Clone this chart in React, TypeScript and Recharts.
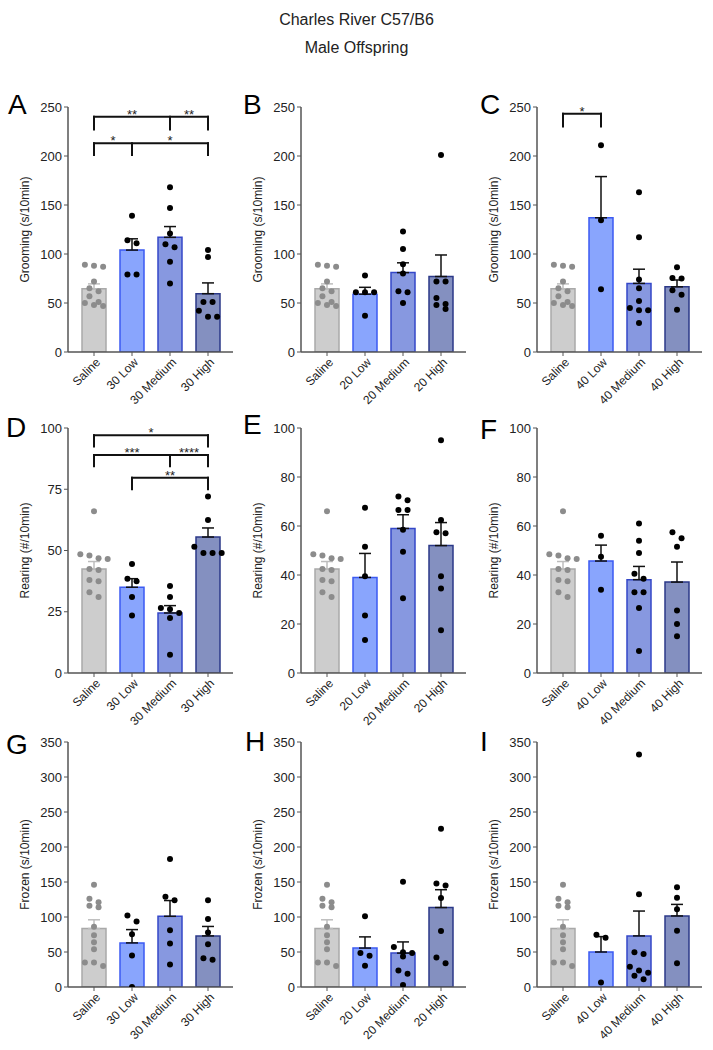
import React from 'react';
import { ComposedChart, Bar, Cell, ErrorBar, Scatter, XAxis, YAxis, ReferenceLine } from 'recharts';

const FONT = '"Liberation Sans", Arial, Helvetica, sans-serif';

// ---- categories ----
const groups30 = ['Saline', '30 Low', '30 Medium', '30 High'];
const groups20 = ['Saline', '20 Low', '20 Medium', '20 High'];
const groups40 = ['Saline', '40 Low', '40 Medium', '40 High'];

// ---- y tick labels ----
const groomingTicks = [0, 50, 100, 150, 200, 250];
const rearingTicksD = [0, 25, 50, 75, 100];
const rearingTicks = [0, 20, 40, 60, 80, 100];
const frozenTicks = [0, 50, 100, 150, 200, 250, 300, 350];

// ---- saline (shared per row) ----
const salineGroomingPts = [89, 88, 87, 72, 65, 62, 57, 51, 50, 48, 47];
const salineRearingPts = [66, 48.5, 48, 46.8, 46.5, 42.5, 42, 38, 37.5, 33, 31];
const salineFrozenPts = [146, 126, 121, 116, 114, 86, 74, 64, 54, 35, 35, 30];
const salineGrooming = { mean: 64.5, sem: 5 };
const salineRearing = { mean: 42.5, sem: 3 };
const salineFrozen = { mean: 83.5, sem: 12.5 };

// ---- A: Grooming, 30 ----
const meansA = [salineGrooming.mean, 104, 117, 59.5];
const semsA = [salineGrooming.sem, 11.5, 11, 11];
const lowA = [139, 114, 111, 79, 79];
const medA = [168, 147, 121, 110, 107, 92, 70];
const highA = [104, 97, 51, 51, 42, 36, 36];

// ---- B: Grooming, 20 ----
const meansB = [salineGrooming.mean, 59, 81, 77];
const semsB = [salineGrooming.sem, 7, 10, 22];
const lowB = [78, 61, 61, 61, 37];
const medB = [123, 105, 89.5, 80, 62, 61, 50];
const highB = [201, 72, 72, 55, 49, 48, 44];

// ---- C: Grooming, 40 ----
const meansC = [salineGrooming.mean, 137, 70, 66.5];
const semsC = [salineGrooming.sem, 42, 14.5, 7];
const lowC = [211, 134.5, 64];
const medC = [163, 117, 74, 65, 52, 45, 42.5, 42.5, 29.5];
const highC = [86.5, 75.5, 75, 63, 58.5, 43];

// ---- D: Rearing, 30 ----
const meansD = [salineRearing.mean, 35, 24.5, 55.5];
const semsD = [salineRearing.sem, 3.5, 3, 3.7];
const lowD = [44.5, 38.5, 37.5, 31, 23.5];
const medD = [35.5, 31, 26.5, 26, 24.5, 22.5, 7.5];
const highD = [72, 62.5, 51.5, 49, 49, 49];

// ---- E: Rearing, 20 ----
const meansE = [salineRearing.mean, 39, 59, 52];
const semsE = [salineRearing.sem, 9.8, 5.6, 9.4];
const lowE = [67.5, 51.5, 39.5, 23.5, 13.5];
const medE = [72, 70.5, 66.5, 66.5, 58.5, 49.5, 30.5];
const highE = [95, 62.5, 57.5, 57, 39.5, 34.5, 17.5];

// ---- F: Rearing, 40 ----
const meansF = [salineRearing.mean, 45.7, 38.1, 37.1];
const semsF = [salineRearing.sem, 6.5, 5.4, 8.2];
const lowF = [56, 47.5, 34];
const medF = [61, 54, 49, 40.5, 38.5, 33, 33, 26.5, 9];
const highF = [57.5, 55, 51.5, 25.5, 20, 15];

// ---- G: Frozen, 30 ----
const meansG = [salineFrozen.mean, 63, 101, 73];
const semsG = [salineFrozen.sem, 19, 22.5, 13.5];
const lowG = [102, 93.5, 75.5, 45, 0];
const medG = [183, 129, 124, 81, 62, 32];
const highG = [124, 97, 78, 61, 41, 39];

// ---- H: Frozen, 20 ----
const meansH = [salineFrozen.mean, 55.6, 48.4, 113.5];
const semsH = [salineFrozen.sem, 16, 16, 25.5];
const lowH = [101, 48.5, 44.5, 30.5];
const medH = [150.5, 57, 49.5, 48.5, 43.5, 23.5, 19, 3];
const highH = [226, 148, 145, 127, 80, 42, 34];

// ---- I: Frozen, 40 ----
const meansI = [salineFrozen.mean, 50, 73, 101.5];
const semsI = [salineFrozen.sem, 22, 35.5, 16.5];
const lowI = [74.5, 70.5, 6.5];
const medI = [332, 132.5, 49.5, 47, 29, 23.5, 20.5, 16, 11];
const highI = [142.5, 127.5, 111, 80.5, 34];

// ---- significance brackets (group index from/to, bracket level, tick bottom) ----
const bracketsA = [
  { from: 0, to: 3, y: 240, drop: 227, mids: [2] },
  { from: 0, to: 3, y: 213, drop: 201, mids: [1] },
];
const starsA = [
  { x: 1, y: 240, t: '**' },
  { x: 2.5, y: 240, t: '**' },
  { x: 0.5, y: 213, t: '*' },
  { x: 2, y: 213, t: '*' },
];
const bracketsC = [{ from: 0, to: 1, y: 243, drop: 230, mids: [] as number[] }];
const starsC = [{ x: 0.5, y: 243, t: '*' }];
const bracketsD = [
  { from: 0, to: 3, y: 97, drop: 92.4, mids: [] as number[] },
  { from: 0, to: 3, y: 89, drop: 84.4, mids: [2] },
  { from: 1, to: 3, y: 79.7, drop: 75, mids: [] as number[] },
];
const starsD = [
  { x: 1.5, y: 97, t: '*' },
  { x: 1, y: 89, t: '***' },
  { x: 2.5, y: 89, t: '****' },
  { x: 2, y: 79.7, t: '**' },
];

// ---- style ----
const fills = ['#cdcdcd', '#89a5fd', '#8798e0', '#8490c0'];
const strokes = ['#a9a9a9', '#3b5af2', '#3447c8', '#2b3888'];
const AXIS = '#555';

const colX = [68, 301, 537];
const rowY = [107, 428, 742];
const PLOT_W = 165;
const PLOT_H = 245;
const YW = 86;
const MT = 15;
const XH = 80;

function spread(values: number[], group: number, max: number) {
  const sorted = [...values].sort((a, b) => b - a);
  const out: { x: number; y: number }[] = [];
  const thr = max * 0.025;
  let i = 0;
  while (i < sorted.length) {
    let j = i + 1;
    while (j < sorted.length && sorted[i] - sorted[j] <= thr) j++;
    const k = j - i;
    for (let m = 0; m < k; m++) out.push({ x: group + (m - (k - 1) / 2) * 0.24, y: sorted[i + m] });
    i = j;
  }
  return out;
}

const XTick = (props: any) => {
  const { x, y, payload } = props;
  return (
    <text
      x={0}
      y={0}
      transform={`translate(${x + 4},${y + 2}) rotate(-45)`}
      textAnchor="end"
      dy="0.35em"
      fontSize={12}
      fill="#222"
    >
      {payload.value}
    </text>
  );
};

const dot = (color: string) => (p: any) => <circle cx={p.cx} cy={p.cy} r={3} fill={color} />;
const starShape = (p: any) => (
  <text x={p.cx} y={p.cy} dy={2} textAnchor="middle" fontSize={13} fill="#222">
    {p.payload.t}
  </text>
);

type PanelCfg = {
  letter: string;
  col: number;
  row: number;
  groups: string[];
  means: number[];
  sems: number[];
  points: number[][];
  max: number;
  ticks: number[];
  yLabel: string;
  brackets?: { from: number; to: number; y: number; drop: number; mids: number[] }[];
  stars?: { x: number; y: number; t: string }[];
};

function Panel({ cfg }: { cfg: PanelCfg }) {
  const { col, row, groups, means, sems, points, max, ticks, yLabel, brackets = [], stars = [] } = cfg;
  const rows = groups.map((g, i) => ({
    name: g,
    mean: means[i],
    errS: i === 0 ? [0, sems[i]] : null,
    errO: i === 0 ? null : [0, sems[i]],
  }));
  const salinePts = spread(points[0], 0, max);
  const otherPts = points.slice(1).flatMap((v, i) => spread(v, i + 1, max));
  const left = colX[col] - YW;
  const top = rowY[row] - MT;
  const segs: { x: number; y: number }[][] = [];
  brackets.forEach((b) => {
    segs.push([{ x: b.from, y: b.y }, { x: b.to, y: b.y }]);
    [b.from, b.to, ...b.mids].forEach((m) => segs.push([{ x: m, y: b.y }, { x: m, y: b.drop }]));
  });
  return (
    <div style={{ position: 'absolute', left, top }}>
      <ComposedChart
        width={YW + PLOT_W + 6}
        height={MT + PLOT_H + XH}
        data={rows}
        margin={{ top: MT, right: 6, bottom: 0, left: 0 }}
      >
        <XAxis
          xAxisId="cat"
          dataKey="name"
          type="category"
          interval={0}
          padding={{ left: 7, right: 6 }}
          height={XH}
          tickSize={4}
          tick={<XTick />}
          axisLine={{ stroke: AXIS, strokeWidth: 1.5 }}
          tickLine={{ stroke: AXIS }}
        />
        <XAxis
          xAxisId="num"
          dataKey="x"
          type="number"
          domain={[-0.5, 3.5]}
          allowDataOverflow
          padding={{ left: 7, right: 6 }}
          hide
        />
        <YAxis
          dataKey="y"
          type="number"
          domain={[0, max]}
          ticks={ticks}
          allowDataOverflow
          width={YW}
          tickSize={4}
          tick={{ fontSize: 13, fill: '#222' }}
          axisLine={{ stroke: AXIS, strokeWidth: 1.5 }}
          tickLine={{ stroke: AXIS }}
          label={{ value: yLabel, angle: -90, position: 'center', fontSize: 12, fill: '#222' }}
        />
        <Bar xAxisId="cat" dataKey="mean" barSize={24} isAnimationActive={false}>
          {rows.map((r, i) => (
            <Cell key={r.name} fill={fills[i]} stroke={strokes[i]} strokeWidth={1.5} />
          ))}
          <ErrorBar dataKey="errS" width={6} stroke="#bdbdbd" strokeWidth={1.5} direction="y" />
          <ErrorBar dataKey="errO" width={6} stroke="#111" strokeWidth={1.5} direction="y" />
        </Bar>
        {segs.map((s, i) => (
          <ReferenceLine
            key={i}
            xAxisId="num"
            segment={s}
            stroke="#111"
            strokeWidth={2}
            strokeLinecap="square"
            ifOverflow="visible"
          />
        ))}
        <Scatter xAxisId="num" data={salinePts} dataKey="y" shape={dot('#8c8c8c')} isAnimationActive={false} />
        <Scatter xAxisId="num" data={otherPts} dataKey="y" shape={dot('#000')} isAnimationActive={false} />
        {stars.length > 0 && (
          <Scatter xAxisId="num" data={stars} dataKey="y" shape={starShape} isAnimationActive={false} />
        )}
      </ComposedChart>
    </div>
  );
}

const panels: PanelCfg[] = [
  { letter: 'A', col: 0, row: 0, groups: groups30, means: meansA, sems: semsA, points: [salineGroomingPts, lowA, medA, highA], max: 250, ticks: groomingTicks, yLabel: 'Grooming (s/10min)', brackets: bracketsA, stars: starsA },
  { letter: 'B', col: 1, row: 0, groups: groups20, means: meansB, sems: semsB, points: [salineGroomingPts, lowB, medB, highB], max: 250, ticks: groomingTicks, yLabel: 'Grooming (s/10min)' },
  { letter: 'C', col: 2, row: 0, groups: groups40, means: meansC, sems: semsC, points: [salineGroomingPts, lowC, medC, highC], max: 250, ticks: groomingTicks, yLabel: 'Grooming (s/10min)', brackets: bracketsC, stars: starsC },
  { letter: 'D', col: 0, row: 1, groups: groups30, means: meansD, sems: semsD, points: [salineRearingPts, lowD, medD, highD], max: 100, ticks: rearingTicksD, yLabel: 'Rearing (#/10min)', brackets: bracketsD, stars: starsD },
  { letter: 'E', col: 1, row: 1, groups: groups20, means: meansE, sems: semsE, points: [salineRearingPts, lowE, medE, highE], max: 100, ticks: rearingTicks, yLabel: 'Rearing (#/10min)' },
  { letter: 'F', col: 2, row: 1, groups: groups40, means: meansF, sems: semsF, points: [salineRearingPts, lowF, medF, highF], max: 100, ticks: rearingTicks, yLabel: 'Rearing (#/10min)' },
  { letter: 'G', col: 0, row: 2, groups: groups30, means: meansG, sems: semsG, points: [salineFrozenPts, lowG, medG, highG], max: 350, ticks: frozenTicks, yLabel: 'Frozen (s/10min)' },
  { letter: 'H', col: 1, row: 2, groups: groups20, means: meansH, sems: semsH, points: [salineFrozenPts, lowH, medH, highH], max: 350, ticks: frozenTicks, yLabel: 'Frozen (s/10min)' },
  { letter: 'I', col: 2, row: 2, groups: groups40, means: meansI, sems: semsI, points: [salineFrozenPts, lowI, medI, highI], max: 350, ticks: frozenTicks, yLabel: 'Frozen (s/10min)' },
];

const letterPos = [
  [8, 91], [243, 91], [480, 91],
  [6, 414], [243, 411], [480, 416],
  [6, 731], [245, 728], [480, 728],
];

export default function App() {
  return (
    <div
      style={{
        position: 'absolute',
        left: 0,
        top: 0,
        width: 713,
        height: 1050,
        background: '#fff',
        fontFamily: FONT,
        overflow: 'hidden',
      }}
    >
      <div style={{ position: 'absolute', left: 0, top: 11, width: 713, textAlign: 'center', fontSize: 16, lineHeight: '18px', color: '#222' }}>
        Charles River C57/B6
      </div>
      <div style={{ position: 'absolute', left: 0, top: 39, width: 713, textAlign: 'center', fontSize: 16, lineHeight: '18px', color: '#222' }}>
        Male Offspring
      </div>
      {panels.map((p) => (
        <Panel key={p.letter} cfg={p} />
      ))}
      {panels.map((p, i) => (
        <div
          key={'L' + p.letter}
          style={{ position: 'absolute', left: letterPos[i][0], top: letterPos[i][1], fontSize: 28, lineHeight: '28px', color: '#000' }}
        >
          {p.letter}
        </div>
      ))}
    </div>
  );
}
